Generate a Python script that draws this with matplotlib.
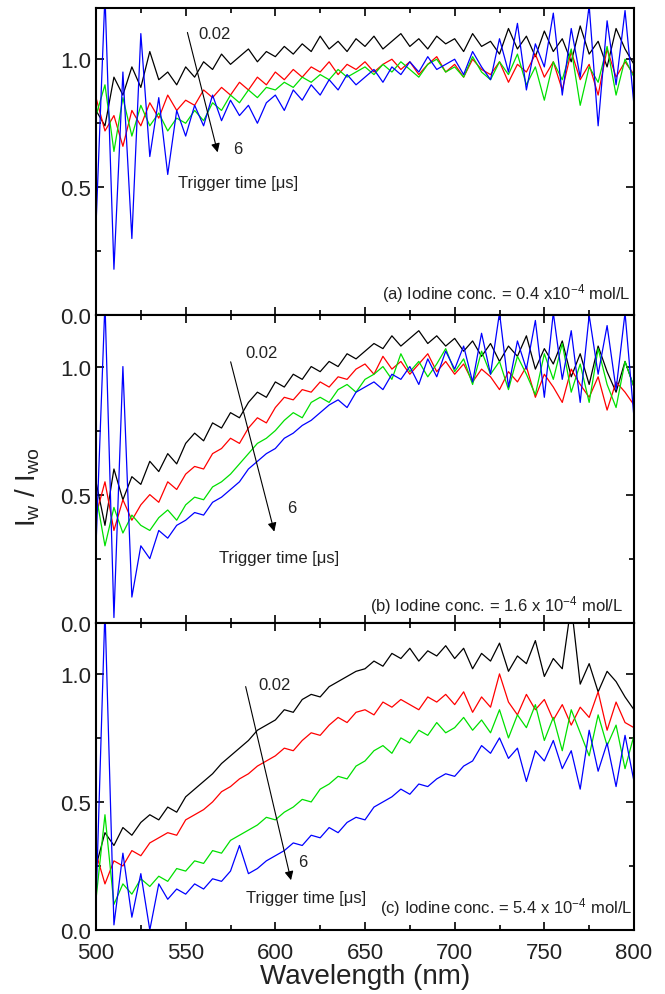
import numpy as np
import matplotlib
matplotlib.use("Agg")
from matplotlib import pyplot as plt
from matplotlib.ticker import MultipleLocator

plt.rcParams['font.family'] = ['Liberation Sans', 'DejaVu Sans']
plt.rcParams['mathtext.default'] = 'regular'

# wavelength grid (nm), one reading every 5 nm
wl = np.arange(500, 801, 5)

# ---- panel (a) 0.4e-4 mol/L
black_a = [0.80, 0.74, 0.93, 0.86, 0.97, 0.89, 1.03, 0.92, 0.95, 0.90,
           0.97, 0.93, 0.99, 0.96, 1.02, 0.98, 1.01, 1.04, 0.99, 1.03,
           1.01, 1.05, 1.02, 1.06, 1.03, 1.09, 1.04, 1.07, 1.03, 1.08,
           1.05, 1.09, 1.04, 1.07, 1.10, 1.05, 1.08, 1.04, 1.09, 1.06,
           1.08, 1.03, 1.10, 1.05, 1.07, 1.02, 1.12, 1.04, 1.09, 1.01,
           1.11, 1.03, 1.08, 0.99, 1.13, 1.02, 1.07, 0.97, 1.12, 1.04,
           0.98]
red_a = [0.85, 0.72, 0.78, 0.66, 0.80, 0.74, 0.83, 0.77, 0.86, 0.80,
         0.84, 0.82, 0.88, 0.85, 0.89, 0.86, 0.91, 0.88, 0.93, 0.90,
         0.95, 0.92, 0.96, 0.93, 0.97, 0.95, 0.99, 0.94, 0.98, 0.96,
         0.99, 0.95, 0.98, 1.00, 0.96, 0.99, 0.94, 0.98, 1.01, 0.95,
         0.98, 0.93, 1.00, 0.96, 0.94, 0.99, 0.91, 0.98, 0.95, 1.02,
         0.93, 0.99, 0.88, 1.03, 0.92, 0.98, 0.86, 1.04, 0.93, 0.99,
         0.94]
green_a = [0.78, 0.90, 0.64, 0.85, 0.70, 0.82, 0.74, 0.79, 0.72, 0.77,
           0.75, 0.80, 0.76, 0.83, 0.80, 0.86, 0.83, 0.88, 0.85, 0.89,
           0.88, 0.91, 0.89, 0.93, 0.91, 0.94, 0.92, 0.96, 0.93, 0.95,
           0.97, 0.94, 0.98, 0.95, 0.99, 0.96, 0.93, 0.98, 1.00, 0.95,
           0.97, 0.93, 1.01, 0.95, 0.92, 0.99, 0.94, 1.02, 0.90, 0.97,
           0.84, 0.99, 0.92, 1.04, 0.82, 0.97, 0.91, 1.05, 0.86, 1.00,
           0.93]
blue_a = [0.35, 1.25, 0.18, 0.95, 0.30, 1.10, 0.62, 0.85, 0.55, 0.80,
          0.70, 0.82, 0.74, 0.86, 0.76, 0.84, 0.78, 0.82, 0.75, 0.83,
          0.86, 0.80, 0.88, 0.84, 0.90, 0.86, 0.92, 0.88, 0.94, 0.90,
          0.93, 0.96, 0.91, 0.97, 0.94, 0.99, 0.95, 1.01, 0.96, 0.98,
          1.00, 0.94, 1.03, 0.97, 0.92, 1.08, 0.95, 1.14, 0.88, 1.06,
          0.97, 1.18, 0.86, 1.12, 0.93, 1.21, 0.74, 1.15, 0.90, 1.19,
          0.82]

# ---- panel (b) 1.6e-4 mol/L
black_b = [0.55, 0.38, 0.60, 0.48, 0.57, 0.54, 0.63, 0.59, 0.66, 0.62,
           0.70, 0.74, 0.71, 0.78, 0.76, 0.82, 0.80, 0.86, 0.90, 0.88,
           0.94, 0.92, 0.97, 0.95, 1.00, 0.98, 1.02, 1.00, 1.05, 1.03,
           1.06, 1.09, 1.07, 1.12, 1.08, 1.11, 1.14, 1.09, 1.12, 1.08,
           1.11, 1.06, 1.10, 1.04, 1.09, 1.02, 1.08, 1.04, 1.12, 0.99,
           1.07, 1.01, 1.10, 0.96, 1.05, 0.93, 1.08, 0.98, 0.90, 1.02,
           0.92]
red_b = [0.42, 0.55, 0.36, 0.48, 0.40, 0.46, 0.50, 0.47, 0.55, 0.52,
         0.58, 0.61, 0.60, 0.66, 0.68, 0.72, 0.70, 0.76, 0.80, 0.78,
         0.84, 0.88, 0.87, 0.91, 0.90, 0.94, 0.92, 0.96, 0.95, 0.99,
         1.01, 0.97, 1.04, 0.99, 1.02, 0.97, 1.01, 1.05, 0.98, 1.02,
         0.97, 1.01, 0.94, 0.99, 0.96, 0.91, 0.98, 0.94, 1.00, 0.88,
         0.97, 0.92, 0.86, 0.99, 0.93, 0.88, 0.96, 0.83, 0.94, 0.90,
         0.85]
green_b = [0.50, 0.30, 0.45, 0.35, 0.42, 0.38, 0.36, 0.41, 0.44, 0.40,
           0.46, 0.49, 0.48, 0.53, 0.55, 0.58, 0.62, 0.66, 0.70, 0.72,
           0.75, 0.79, 0.82, 0.80, 0.86, 0.88, 0.86, 0.91, 0.93, 0.90,
           0.95, 0.97, 1.00, 0.95, 1.05, 0.98, 1.02, 0.96, 1.01, 1.07,
           0.98, 1.03, 0.93, 1.06, 0.97, 1.02, 0.91, 1.04, 0.97, 0.89,
           1.05, 0.95, 1.09, 0.90, 1.01, 0.86, 1.07, 0.93, 0.84, 1.02,
           0.92]
blue_b = [0.30, 1.25, 0.02, 1.00, 0.10, 0.30, 0.25, 0.36, 0.33, 0.38,
          0.40, 0.43, 0.42, 0.47, 0.49, 0.52, 0.55, 0.60, 0.63, 0.66,
          0.68, 0.72, 0.74, 0.77, 0.79, 0.82, 0.85, 0.87, 0.84, 0.90,
          0.92, 0.94, 0.91, 0.97, 0.95, 1.00, 0.93, 1.03, 0.96, 1.06,
          0.99, 1.08, 0.94, 1.13, 0.97, 1.21, 0.92, 1.10, 0.99, 1.18,
          0.88, 1.21, 0.95, 1.14, 0.86, 1.20, 0.97, 1.16, 0.91, 1.21,
          0.80]

# ---- panel (c) 5.4e-4 mol/L
black_c = [0.25, 0.38, 0.33, 0.40, 0.37, 0.42, 0.45, 0.43, 0.48, 0.46,
           0.52, 0.55, 0.58, 0.61, 0.65, 0.68, 0.71, 0.74, 0.78, 0.80,
           0.82, 0.86, 0.85, 0.90, 0.92, 0.91, 0.95, 0.97, 0.99, 1.01,
           1.02, 1.05, 1.03, 1.08, 1.06, 1.10, 1.05, 1.09, 1.07, 1.11,
           1.06, 1.10, 1.02, 1.08, 1.05, 1.12, 1.01, 1.07, 1.04, 1.13,
           0.99, 1.06, 1.02, 1.27, 0.96, 1.04, 0.93, 1.01, 0.97, 0.91,
           0.86]
red_c = [0.30, 0.18, 0.27, 0.25, 0.31, 0.29, 0.34, 0.36, 0.38, 0.37,
         0.43, 0.45, 0.47, 0.50, 0.54, 0.56, 0.59, 0.61, 0.64, 0.66,
         0.68, 0.71, 0.70, 0.74, 0.77, 0.76, 0.80, 0.83, 0.81, 0.85,
         0.86, 0.84, 0.89, 0.87, 0.90, 0.88, 0.86, 0.91, 0.89, 0.92,
         0.88, 0.93, 0.85, 0.91, 0.87, 1.00, 0.89, 0.84, 0.92, 0.86,
         0.90, 0.82, 0.88, 0.80, 0.87, 0.83, 0.93, 0.78, 0.89, 0.81,
         0.79]
green_c = [0.12, 0.45, 0.10, 0.18, 0.14, 0.20, 0.17, 0.21, 0.19, 0.24,
           0.23, 0.27, 0.26, 0.31, 0.30, 0.35, 0.37, 0.39, 0.41, 0.44,
           0.43, 0.46, 0.48, 0.51, 0.50, 0.55, 0.57, 0.60, 0.59, 0.64,
           0.66, 0.70, 0.72, 0.69, 0.75, 0.73, 0.78, 0.76, 0.81, 0.77,
           0.79, 0.83, 0.78, 0.82, 0.77, 0.86, 0.75, 0.84, 0.79, 0.88,
           0.74, 0.83, 0.70, 0.86, 0.77, 0.68, 0.84, 0.72, 0.80, 0.63,
           0.76]
blue_c = [0.10, 1.25, 0.02, 0.30, 0.05, 0.22, 0.00, 0.18, 0.12, 0.16,
          0.14, 0.18, 0.16, 0.20, 0.19, 0.23, 0.33, 0.22, 0.24, 0.27,
          0.29, 0.31, 0.34, 0.33, 0.37, 0.36, 0.40, 0.38, 0.42, 0.44,
          0.43, 0.48, 0.50, 0.52, 0.55, 0.53, 0.57, 0.56, 0.59, 0.61,
          0.60, 0.64, 0.66, 0.72, 0.69, 0.75, 0.67, 0.71, 0.58, 0.70,
          0.66, 0.74, 0.63, 0.70, 0.55, 0.78, 0.62, 0.73, 0.56, 0.76,
          0.58]

colors = ['k', '#ff0000', '#00e000', '#0000ff']
panel_labels = ['(a) Iodine conc. = 0.4 x10$^{-4}$ mol/L',
                '(b) Iodine conc. = 1.6 x 10$^{-4}$ mol/L',
                '(c) Iodine conc. = 5.4 x 10$^{-4}$ mol/L']
series = [[black_a, red_a, green_a, blue_a],
          [black_b, red_b, green_b, blue_b],
          [black_c, red_c, green_c, blue_c]]

# annotation placement per panel: arrow start/end, text positions (data coords)
arrows = [((550.6, 1.115), (568.2, 0.626)),
          ((574.7, 1.029), (599.8, 0.345)),
          ((583.1, 0.961), (609.1, 0.184))]
txt_first = [(556.9, 1.082), (583.1, 1.039), (590.4, 0.941)]
txt_last = [(576.4, 0.633), (606.5, 0.434), (612.7, 0.250)]
txt_trig = [(545.7, 0.500), (568.6, 0.238), (583.7, 0.109)]
lab_pos = [(798.4, 0.066), (793.9, 0.047), (798.9, 0.070)]

txtcol = '#222222'

fig = plt.figure(figsize=(6.65, 9.95), dpi=100)
left = 96 / 665
width = (634 - 96) / 665
ph = (931 - 9) / 3 / 995
bottoms = [1 - (9 + 1 * (931 - 9) / 3) / 995,
           1 - (9 + 2 * (931 - 9) / 3) / 995,
           1 - 931 / 995]

for k in range(3):
    ax = fig.add_axes([left, bottoms[k], width, ph])
    for s, c in zip(series[k], colors):
        ax.plot(wl, s, color=c, lw=0.9)
    ax.set_xlim(500, 800)
    ax.set_ylim(0, 1.2)
    ax.xaxis.set_major_locator(MultipleLocator(50))
    ax.xaxis.set_minor_locator(MultipleLocator(25))
    ax.yaxis.set_major_locator(MultipleLocator(0.5))
    ax.yaxis.set_minor_locator(MultipleLocator(0.25))
    ax.yaxis.set_major_formatter(matplotlib.ticker.FormatStrFormatter('%.1f'))
    ax.tick_params(which='both', direction='in', top=True, right=True, width=1.2,
                   labelsize=16, colors='k', labelcolor=txtcol)
    ax.tick_params(which='major', length=6)
    ax.tick_params(which='minor', length=3.5)
    ax.tick_params(axis='x', pad=9)
    for sp in ax.spines.values():
        sp.set_linewidth(1.5)
    if k < 2:
        ax.tick_params(labelbottom=False)
    else:
        ax.set_xlabel('Wavelength (nm)', fontsize=20, color=txtcol, labelpad=0)

    (x0, y0), (x1, y1) = arrows[k]
    ax.annotate('', xy=(x1, y1), xytext=(x0, y0),
                arrowprops=dict(arrowstyle='-|>', color='k', lw=0.8, mutation_scale=13))
    ax.text(*txt_first[k], '0.02', fontsize=12, color=txtcol, va='baseline')
    ax.text(*txt_last[k], '6', fontsize=12, color=txtcol, va='baseline')
    ax.text(*txt_trig[k], 'Trigger time [\u03bcs]', fontsize=12, color=txtcol, va='baseline')
    ax.text(*lab_pos[k], panel_labels[k], fontsize=12, color=txtcol, ha='right', va='baseline')

fig.text(0.042, 1 - 487 / 995, '$I_w$ / $I_{wo}$', rotation=90, fontsize=20,
         color=txtcol, ha='center', va='center')

fig.savefig('out.png', dpi=100)
